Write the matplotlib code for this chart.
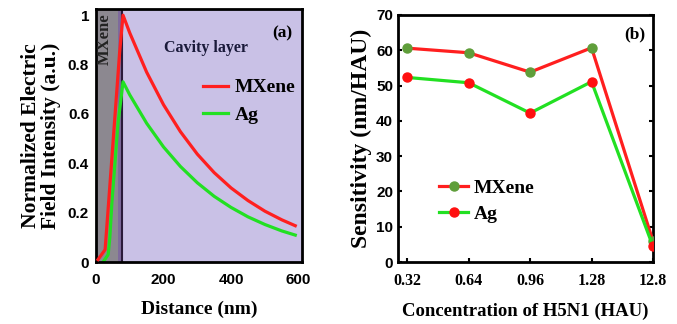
import matplotlib
matplotlib.use("Agg")
import matplotlib.pyplot as plt

# ---- Panel (a) data ----
mx_dist = [6, 27, 40, 55, 70, 80, 100, 150, 200, 250, 300, 350, 400, 450, 500, 550, 590]
mx_field = [0.01, 0.05, 0.29, 0.57, 0.85, 1.0, 0.928, 0.769, 0.637, 0.528, 0.437, 0.362, 0.300, 0.249, 0.206, 0.171, 0.147]
ag_dist = [21, 36, 41, 47, 56, 65, 80, 100, 150, 200, 250, 300, 350, 400, 450, 500, 550, 590]
ag_field = [0.0, 0.03, 0.10, 0.24, 0.40, 0.56, 0.73, 0.677, 0.562, 0.466, 0.387, 0.321, 0.266, 0.221, 0.183, 0.152, 0.126, 0.109]
mxene_layer = (0, 65)
interface = (65, 80)
a_xticks = [0, 200, 400, 600]
a_yticks = [0, 0.2, 0.4, 0.6, 0.8, 1]
a_yticklabels = ["0", "0.2", "0.4", "0.6", "0.8", "1"]

# ---- Panel (b) data ----
conc_labels = ["0.32", "0.64", "0.96", "1.28", "12.8"]
sens_mxene = [60.6, 59.3, 53.8, 60.7, 5.9]
sens_ag = [52.3, 50.8, 42.2, 51.1, 4.4]
b_yticks = [0, 10, 20, 30, 40, 50, 60, 70]

RED = "#ff1f1f"
GREEN = "#22e022"
serif = "Liberation Serif"
sans = "Liberation Sans"

fig = plt.figure(figsize=(6.77, 3.24), dpi=100)

# ---------- Panel (a) ----------
ax1 = fig.add_axes([96/677, 62/324, 206/677, 253/324])
ax1.axvspan(mxene_layer[0], mxene_layer[1], color="#8c8890", zorder=0, lw=0)
ax1.axvspan(interface[0], interface[1], color="#7e6a9c", zorder=0, lw=0)
ax1.axvspan(interface[1], 620, color="#c9c1e6", zorder=0, lw=0)
ax1.axvline(76, color="#2a1a3a", lw=1.5, zorder=1)
ax1.plot(mx_dist, mx_field, color=RED, lw=2.3, label="MXene", zorder=3)
ax1.plot(ag_dist, ag_field, color=GREEN, lw=2.3, label="Ag", zorder=2)
ax1.set_xlim(0, 610)
ax1.set_ylim(0, 1.025)
ax1.set_xticks(a_xticks)
ax1.set_yticks(a_yticks)
ax1.set_yticklabels(a_yticklabels)
ax1.tick_params(direction="in", length=0, labelsize=11, pad=5)
ax1.tick_params(axis="x", pad=8)
for lab in ax1.get_xticklabels() + ax1.get_yticklabels():
    lab.set_fontfamily(sans)
    lab.set_fontweight("bold")
for sp in ax1.spines.values():
    sp.set_linewidth(2)
ax1.set_xlabel("Distance (nm)", fontfamily=serif, fontweight="bold", fontsize=14, labelpad=10)
ax1.set_ylabel("Normalized Electric\nField Intensity (a.u.)", fontfamily=serif,
               fontweight="bold", fontsize=15.5, labelpad=5, linespacing=1.0)
ax1.text(0.955, 0.905, "(a)", transform=ax1.transAxes, ha="right", va="center",
         fontfamily=serif, fontweight="bold", fontsize=12.5)
ax1.text(0.33, 0.845, "Cavity layer", transform=ax1.transAxes, ha="left", va="center",
         fontfamily=serif, fontweight="bold", fontsize=11.5, color="#1a1a3a")
ax1.text(26, 0.80, "MXene", rotation=90, ha="center", va="bottom",
         fontfamily=serif, fontweight="bold", fontsize=12, color="#222222",
         zorder=4, clip_on=True)
ax1.legend(loc="upper left", bbox_to_anchor=(0.48, 0.755), frameon=False,
           prop={"family": serif, "weight": "bold", "size": 14},
           handlelength=1.3, handletextpad=0.35, labelspacing=0.5, borderaxespad=0)

# ---------- Panel (b) ----------
ax2 = fig.add_axes([398/677, 62/324, 255/677, 247/324])
xpos = list(range(len(conc_labels)))
ax2.plot(xpos, sens_mxene, color=RED, lw=2.3, marker="o", markersize=6.5,
         markerfacecolor="#5f9e3a", markeredgecolor="#5f9e3a", label="MXene", zorder=3)
ax2.plot(xpos, sens_ag, color=GREEN, lw=2.3, marker="o", markersize=6.5,
         markerfacecolor="#ff1010", markeredgecolor="#ff1010", label="Ag", zorder=3)
ax2.set_xlim(-0.15, 4.0)
ax2.set_ylim(0, 70)
ax2.set_xticks(xpos)
ax2.set_xticklabels(conc_labels)
ax2.set_yticks(b_yticks)
ax2.tick_params(direction="in", length=3, width=1.5, right=True, top=False, labelsize=11)
ax2.tick_params(axis="x", pad=8)
for lab in ax2.get_yticklabels():
    lab.set_fontfamily(sans)
    lab.set_fontweight("bold")
for lab in ax2.get_xticklabels():
    lab.set_fontfamily(serif)
    lab.set_fontweight("bold")
    lab.set_fontsize(11.5)
for sp in ax2.spines.values():
    sp.set_linewidth(2)
ax2.set_xlabel("Concentration of H5N1 (HAU)", fontfamily=serif, fontweight="bold",
               fontsize=13.5, labelpad=10)
ax2.set_ylabel("Sensitivity (nm/HAU)", fontfamily=serif, fontweight="bold",
               fontsize=17, labelpad=3)
ax2.text(0.97, 0.92, "(b)", transform=ax2.transAxes, ha="right", va="center",
         fontfamily=serif, fontweight="bold", fontsize=12.5)
ax2.legend(loc="upper left", bbox_to_anchor=(0.13, 0.365), frameon=False,
           prop={"family": serif, "weight": "bold", "size": 14},
           handlelength=1.5, handletextpad=0.3, labelspacing=0.4, borderaxespad=0)

fig.savefig("out.png", dpi=100)
